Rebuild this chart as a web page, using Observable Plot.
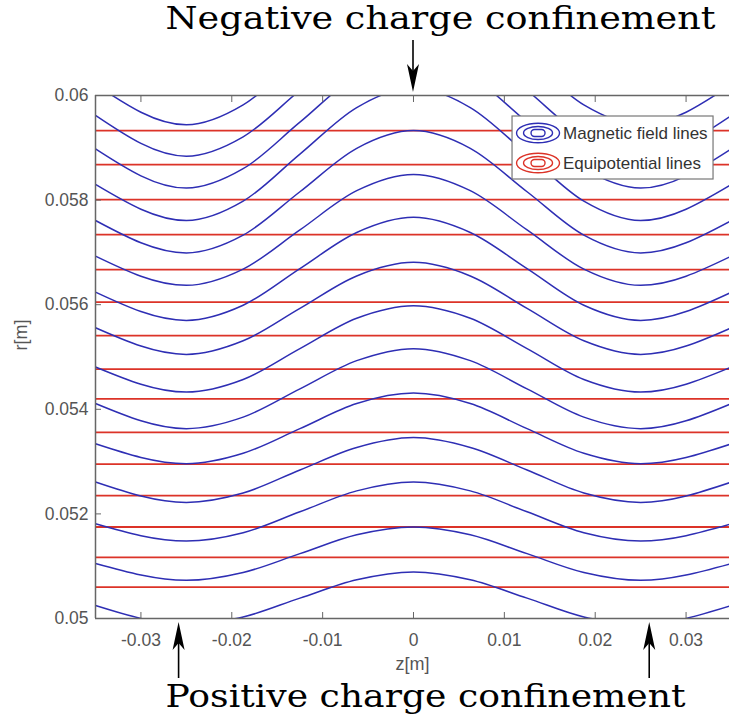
<!DOCTYPE html>
<html><head><meta charset="utf-8">
<script src="https://cdn.jsdelivr.net/npm/d3@7"></script>
<script src="https://cdn.jsdelivr.net/npm/@observablehq/plot@0.6"></script>
<style>body{margin:0;background:#fff}#chart{width:729px;height:723px;overflow:hidden}</style>
</head><body><div id="chart"></div>
<script>
// ---- data ----
const zGrid = [-0.035, -0.025, -0.01875, -0.0125, -0.00625, 0, 0.00625, 0.0125, 0.01875, 0.025, 0.035];
// magnetic field lines r[m] at zGrid (top to bottom)
const fieldA = [0.06021, 0.05944, 0.05982, 0.06073, 0.06164, 0.06202, 0.06164, 0.06073, 0.05982, 0.05944, 0.06021];
const fieldB = [0.05962, 0.05884, 0.05921, 0.06010, 0.06098, 0.06135, 0.06098, 0.06010, 0.05921, 0.05884, 0.05962];
const fieldC = [0.05898, 0.05823, 0.05860, 0.05949, 0.06038, 0.06075, 0.06038, 0.05949, 0.05860, 0.05823, 0.05898];
const fieldD = [0.05830, 0.05761, 0.05798, 0.05888, 0.05977, 0.06015, 0.05977, 0.05888, 0.05798, 0.05761, 0.05830];
const fieldE = [0.05761, 0.05699, 0.05733, 0.05816, 0.05899, 0.05933, 0.05899, 0.05816, 0.05733, 0.05699, 0.05761];
const fieldF = [0.05693, 0.05637, 0.05668, 0.05743, 0.05818, 0.05849, 0.05818, 0.05743, 0.05668, 0.05637, 0.05693];
const fieldG = [0.05624, 0.05570, 0.05599, 0.05669, 0.05738, 0.05767, 0.05738, 0.05669, 0.05599, 0.05570, 0.05624];
const fieldH = [0.05556, 0.05505, 0.05531, 0.05593, 0.05655, 0.05681, 0.05655, 0.05593, 0.05531, 0.05505, 0.05556];
const fieldI = [0.05481, 0.05433, 0.05457, 0.05516, 0.05574, 0.05598, 0.05574, 0.05516, 0.05457, 0.05433, 0.05481];
const fieldJ = [0.05411, 0.05363, 0.05385, 0.05439, 0.05493, 0.05516, 0.05493, 0.05439, 0.05385, 0.05363, 0.05411];
const fieldK = [0.05334, 0.05296, 0.05316, 0.05363, 0.05411, 0.05431, 0.05411, 0.05363, 0.05316, 0.05296, 0.05334];
const fieldL = [0.05261, 0.05222, 0.05240, 0.05284, 0.05327, 0.05346, 0.05327, 0.05284, 0.05240, 0.05222, 0.05261];
const fieldM = [0.05181, 0.05148, 0.05164, 0.05204, 0.05244, 0.05261, 0.05244, 0.05204, 0.05164, 0.05148, 0.05181];
const fieldN = [0.05105, 0.05073, 0.05088, 0.05124, 0.05160, 0.05175, 0.05160, 0.05124, 0.05088, 0.05073, 0.05105];
const fieldO = [0.05025, 0.04989, 0.05003, 0.05039, 0.05074, 0.05089, 0.05074, 0.05039, 0.05003, 0.04989, 0.05025];
// equipotential lines r[m]
const equipotentialR = [0.05933, 0.05868, 0.05801, 0.05734, 0.05667, 0.05605, 0.05541, 0.05477, 0.05420, 0.05356, 0.05295, 0.05235, 0.05175, 0.05117, 0.05060];
const xTicks = [-0.03, -0.02, -0.01, 0, 0.01, 0.02, 0.03];
const yTicks = [0.05, 0.052, 0.054, 0.056, 0.058, 0.06];
const xDomain = [-0.035, 0.03478];
const yDomain = [0.05, 0.06];
const legendLabels = ["Magnetic field lines", "Equipotential lines"];
const titleTop = "Negative charge confinement";
const titleBottom = "Positive charge confinement";
const xLabel = "z[m]";
const yLabel = "r[m]";
const negArrowZ = [0];
const posArrowZ = [-0.0258, 0.026];

// ---- build ----
const fieldLines = [fieldA, fieldB, fieldC, fieldD, fieldE, fieldF, fieldG, fieldH, fieldI, fieldJ, fieldK, fieldL, fieldM, fieldN, fieldO];
const rows = fieldLines.flatMap((vals, k) => vals.map((r, i) => ({z: zGrid[i], r, line: k})));
const fmt = d => String(+d.toFixed(4));
const SANS = "'Liberation Sans', Arial, sans-serif";
const SERIF = "'DejaVu Serif', serif";
const BLUE = "#2e2eb4", RED = "#dc3328", AXIS = "#666", TXT = "#555";

const plot = Plot.plot({
  width: 729, height: 723,
  marginTop: 95, marginBottom: 105, marginLeft: 95, marginRight: 0,
  style: {fontFamily: SANS, fontSize: "17.5px", background: "white", overflow: "visible"},
  x: {domain: xDomain},
  y: {domain: yDomain},
  marks: [
    Plot.ruleY(equipotentialR, {stroke: RED, strokeWidth: 1.8}),
    Plot.line(rows, {x: "z", y: "r", z: "line", stroke: BLUE, strokeWidth: 1.5, curve: "monotone-x", clip: true}),
    Plot.ruleX([xDomain[0]], {stroke: AXIS, strokeWidth: 1.5}),
    Plot.ruleY(yDomain, {stroke: AXIS, strokeWidth: 1.5}),
    Plot.axisX(xTicks, {anchor: "bottom", tickSize: -6, tickFormat: () => "", label: null, stroke: AXIS}),
    Plot.axisX(xTicks, {anchor: "top", tickSize: -6, tickFormat: () => "", label: null, stroke: AXIS}),
    Plot.axisY(yTicks, {anchor: "left", tickSize: -6, tickFormat: () => "", label: null, stroke: AXIS}),
    Plot.axisX(xTicks, {anchor: "bottom", tickSize: 0, tickPadding: 15, tickFormat: fmt, label: null, fill: TXT, fontSize: 17.5}),
    Plot.axisY(yTicks, {anchor: "left", tickSize: 0, tickPadding: 7, tickFormat: fmt, label: null, fill: TXT, fontSize: 17.5}),
    Plot.text([xLabel], {text: d => d, frameAnchor: "bottom", dy: 51, fill: TXT, fontSize: 18}),
    Plot.text([yLabel], {text: d => d, frameAnchor: "left", textAnchor: "middle", dx: -74, dy: -22, rotate: -90, fill: TXT, fontSize: 18}),
    Plot.text([titleTop], {text: d => d, frameAnchor: "top", dx: 28, dy: -89, fontFamily: SERIF, fontSize: 31, fill: "#000"}),
    Plot.text([titleBottom], {text: d => d, frameAnchor: "bottom", dx: 13, dy: 88, fontFamily: SERIF, fontSize: 31, fill: "#000"})
  ]
});

// stretch the serif captions to the reference's width
const svg = d3.select(plot);
svg.selectAll("text").each(function() {
  const t = this.textContent;
  if (t === titleTop) d3.select(this).attr("textLength", 550).attr("lengthAdjust", "spacingAndGlyphs");
  if (t === titleBottom) d3.select(this).attr("textLength", 520).attr("lengthAdjust", "spacingAndGlyphs");
});

// arrows and legend, positioned through the plot's scales
const sx = plot.scale("x"), sy = plot.scale("y");
const frameTop = sy.apply(yDomain[1]), frameBottom = sy.apply(yDomain[0]);
function arrow(x, yTail, yTip) {
  const dir = Math.sign(yTip - yTail);
  const g = svg.append("g");
  g.append("line").attr("x1", x).attr("x2", x).attr("y1", yTail).attr("y2", yTip - dir * 20)
    .attr("stroke", "#000").attr("stroke-width", 1.6);
  g.append("path").attr("fill", "#000")
    .attr("d", `M${x},${yTip} L${x - 6},${yTip - dir * 28} L${x},${yTip - dir * 21} L${x + 6},${yTip - dir * 28} Z`);
}
negArrowZ.forEach(z => arrow(sx.apply(z), frameTop - 55, frameTop - 3));
posArrowZ.forEach(z => arrow(sx.apply(z), frameBottom + 60, frameBottom + 4));

const lg = svg.append("g");
const lx = sx.apply(0.01090), ly = frameTop + 21;
lg.append("rect").attr("x", lx).attr("y", ly).attr("width", 201).attr("height", 63)
  .attr("fill", "#fff").attr("stroke", "#777").attr("stroke-width", 1.2);
legendLabels.forEach((label, i) => {
  const cy = ly + 17 + i * 30, cx = lx + 26, col = i === 0 ? BLUE : RED;
  [[21.5, 9.8], [14.5, 6.5]].forEach(([rx, ry]) => lg.append("ellipse").attr("cx", cx).attr("cy", cy)
    .attr("rx", rx).attr("ry", ry).attr("fill", "none").attr("stroke", col).attr("stroke-width", 1.4));
  lg.append("rect").attr("x", cx - 7).attr("y", cy - 3.5).attr("width", 14).attr("height", 7).attr("rx", 3.5)
    .attr("fill", "none").attr("stroke", col).attr("stroke-width", 1.4);
  lg.append("text").attr("x", cx + 25).attr("y", cy).attr("dy", "0.35em").attr("fill", "#333")
    .attr("text-anchor", "start").attr("font-family", SANS).attr("font-size", 17).text(label);
});

document.getElementById("chart").appendChild(plot);
</script>
</body></html>
